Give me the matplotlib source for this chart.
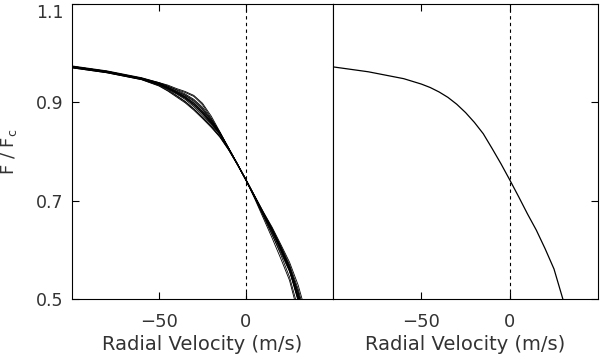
import numpy as np
import matplotlib.pyplot as plt

vel = [-100, -80, -60, -50, -45, -40, -35, -30, -25, -20, -15, -10, -5, 0, 5, 10, 15, 20, 25, 30, 35]

# mean line profile (right panel)
mean_profile = [0.972, 0.962, 0.948, 0.937, 0.930, 0.921, 0.910, 0.896, 0.879, 0.859, 0.836,
                0.806, 0.775, 0.742, 0.708, 0.673, 0.640, 0.602, 0.561, 0.500, 0.430]

# individual profiles (left panel)
profiles = [
    [0.973, 0.963, 0.949, 0.939, 0.933, 0.926, 0.920, 0.912, 0.895, 0.868, 0.838, 0.806, 0.774, 0.742, 0.709, 0.674, 0.641, 0.604, 0.565, 0.512, 0.440],
    [0.972, 0.962, 0.949, 0.940, 0.935, 0.928, 0.922, 0.914, 0.898, 0.872, 0.840, 0.807, 0.775, 0.743, 0.709, 0.675, 0.642, 0.605, 0.566, 0.515, 0.445],
    [0.971, 0.961, 0.947, 0.935, 0.926, 0.914, 0.902, 0.887, 0.870, 0.852, 0.831, 0.804, 0.774, 0.741, 0.707, 0.672, 0.638, 0.600, 0.559, 0.498, 0.428],
    [0.970, 0.960, 0.946, 0.933, 0.923, 0.911, 0.899, 0.884, 0.867, 0.849, 0.829, 0.803, 0.773, 0.741, 0.706, 0.671, 0.637, 0.599, 0.557, 0.495, 0.425],
    [0.973, 0.963, 0.948, 0.938, 0.931, 0.922, 0.914, 0.902, 0.885, 0.863, 0.838, 0.807, 0.775, 0.742, 0.707, 0.670, 0.632, 0.590, 0.545, 0.480, 0.410],
    [0.972, 0.962, 0.948, 0.937, 0.930, 0.921, 0.912, 0.899, 0.882, 0.861, 0.837, 0.806, 0.774, 0.741, 0.704, 0.664, 0.624, 0.582, 0.538, 0.470, 0.400],
    [0.971, 0.961, 0.947, 0.936, 0.928, 0.918, 0.908, 0.894, 0.877, 0.857, 0.835, 0.805, 0.775, 0.742, 0.709, 0.676, 0.644, 0.608, 0.570, 0.520, 0.455],
    [0.972, 0.962, 0.948, 0.937, 0.929, 0.919, 0.909, 0.895, 0.878, 0.858, 0.836, 0.806, 0.775, 0.743, 0.710, 0.677, 0.646, 0.611, 0.575, 0.528, 0.465],
    [0.974, 0.964, 0.950, 0.940, 0.933, 0.925, 0.917, 0.906, 0.890, 0.866, 0.839, 0.807, 0.775, 0.742, 0.708, 0.673, 0.640, 0.603, 0.562, 0.503, 0.432],
    [0.971, 0.961, 0.947, 0.936, 0.927, 0.917, 0.906, 0.891, 0.874, 0.855, 0.834, 0.805, 0.774, 0.742, 0.708, 0.673, 0.639, 0.601, 0.560, 0.499, 0.429],
    [0.972, 0.962, 0.948, 0.938, 0.931, 0.923, 0.915, 0.904, 0.887, 0.864, 0.838, 0.807, 0.775, 0.742, 0.706, 0.668, 0.630, 0.594, 0.556, 0.506, 0.440],
    [0.973, 0.963, 0.949, 0.938, 0.930, 0.920, 0.910, 0.896, 0.879, 0.859, 0.836, 0.806, 0.775, 0.742, 0.708, 0.674, 0.641, 0.604, 0.563, 0.505, 0.435],
    [0.970, 0.960, 0.946, 0.934, 0.924, 0.913, 0.901, 0.886, 0.869, 0.851, 0.830, 0.804, 0.774, 0.742, 0.708, 0.674, 0.642, 0.606, 0.566, 0.510, 0.440],
    [0.972, 0.962, 0.948, 0.937, 0.929, 0.920, 0.911, 0.898, 0.881, 0.860, 0.837, 0.806, 0.775, 0.742, 0.707, 0.671, 0.636, 0.598, 0.558, 0.500, 0.430],
]

xticks = [-50, 0]
xticklabels = ["\u221250", "0"]
yticks = [0.5, 0.7, 0.9, 1.1]
yticklabels = ["0.5", "0.7", "0.9", "1.1"]
xlabel = "Radial Velocity (m/s)"
ylabel = r"F / F$_{\rm c}$"

plt.rcParams["font.family"] = "DejaVu Sans"
plt.rcParams["mathtext.default"] = "regular"
txt = "#333333"

fig = plt.figure(figsize=(6, 3.57), dpi=100)
ax1 = fig.add_axes([0.12, 0.1625, 0.435, 0.8265])
ax2 = fig.add_axes([0.555, 0.1625, 0.442, 0.8265])

for p in profiles:
    ax1.plot(vel, p, color="black", lw=0.6)
ax2.plot(vel, mean_profile, color="black", lw=0.9)

for ax in (ax1, ax2):
    ax.axvline(0, color="black", lw=0.8, linestyle=(0, (3, 3)))
    ax.set_xlim(-100, 50)
    ax.set_ylim(0.5, 1.1)
    ax.set_xticks(xticks)
    ax.set_xticklabels(xticklabels, fontsize=13, color=txt)
    ax.set_yticks(yticks)
    ax.tick_params(direction="in", length=5, width=0.8, top=True)
    ax.tick_params(axis="x", pad=10)
    ax.set_xlabel(xlabel, fontsize=14, color=txt, labelpad=3)
    for s in ax.spines.values():
        s.set_linewidth(0.8)

ax1.set_yticklabels(yticklabels, fontsize=12.5, color=txt)
ax1.get_yticklabels()[-1].set_verticalalignment("top")
ax1.tick_params(axis="y", right=False, pad=6)
ax1.set_ylabel(ylabel, fontsize=13, color=txt, labelpad=12)

ax2.tick_params(axis="y", left=False, right=True, labelleft=False)

fig.savefig("out.png", dpi=100)
